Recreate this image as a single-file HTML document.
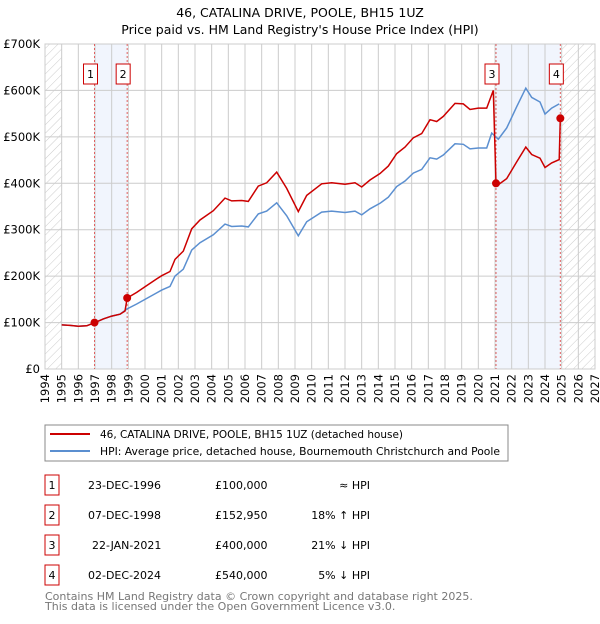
<!DOCTYPE html>
<html><head><meta charset="utf-8"><style>
body{margin:0;background:#fff;font-family:"DejaVu Sans","Liberation Sans",sans-serif;}
svg text{font-family:"DejaVu Sans","Liberation Sans",sans-serif;}
</style></head><body>
<svg id="chart" width="600" height="620" xmlns="http://www.w3.org/2000/svg">
<defs>
<pattern id="hatch" width="6" height="6" patternUnits="userSpaceOnUse" patternTransform="rotate(45)">
<line x1="0" y1="0" x2="0" y2="6" stroke="#ccc" stroke-width="1"/></pattern>
</defs>
<text x="300" y="17" text-anchor="middle" font-size="12.5">46, CATALINA DRIVE, POOLE, BH15 1UZ</text>
<text x="300" y="34" text-anchor="middle" font-size="12.5">Price paid vs. HM Land Registry's House Price Index (HPI)</text>
<g id="plot"></g>
<g>
<rect x="45" y="425" width="463" height="36" fill="#fff" stroke="#888"/>
<line x1="50" y1="434" x2="90" y2="434" stroke="#cc0000" stroke-width="2"/>
<text x="100" y="438" font-size="11" textLength="303" lengthAdjust="spacingAndGlyphs">46, CATALINA DRIVE, POOLE, BH15 1UZ (detached house)</text>
<line x1="50" y1="451" x2="90" y2="451" stroke="#5b8fd0" stroke-width="2"/>
<text x="100" y="455" font-size="11" textLength="400" lengthAdjust="spacingAndGlyphs">HPI: Average price, detached house, Bournemouth Christchurch and Poole</text>
</g>
<g id="table" font-size="11"></g>
<text x="45" y="600" font-size="11" fill="#777">Contains HM Land Registry data © Crown copyright and database right 2025.</text>
<text x="45" y="610" font-size="11" fill="#777">This data is licensed under the Open Government Licence v3.0.</text>
</svg>
<script>
const hpiYears=[1995,1995.5,1996,1996.5,1997,1997.5,1998,1998.5,1998.9,1999.5,2000,2000.7,2001,2001.5,2001.8,2002.3,2002.8,2003.3,2004.1,2004.8,2005.2,2005.8,2006.2,2006.8,2007.3,2007.9,2008.5,2009.2,2009.7,2010.6,2011.2,2012,2012.6,2013,2013.5,2014.1,2014.6,2015.1,2015.6,2016.1,2016.6,2017.1,2017.5,2017.9,2018.6,2019.1,2019.5,2020,2020.5,2020.8,2021.2,2021.7,2022.3,2022.85,2023.2,2023.7,2024.0,2024.4,2024.85];
const hpiValues=[95,94,92,93,100,108,114,118,129,140,150,164,170,178,200,215,256,272,289,312,307,308,306,334,340,358,330,287,317,338,340,337,340,332,345,357,370,393,405,422,430,455,452,461,485,484,474,476,476,508,495,519,565,605,585,575,549,562,571];
const redYears=[1995,1995.5,1996,1996.5,1997,1997.5,1998,1998.5,1998.8,1998.93,1999.5,2000,2000.7,2001,2001.5,2001.8,2002.3,2002.8,2003.3,2004.1,2004.8,2005.2,2005.8,2006.2,2006.8,2007.3,2007.9,2008.5,2009.2,2009.7,2010.6,2011.2,2012,2012.6,2013,2013.5,2014.1,2014.6,2015.1,2015.6,2016.1,2016.6,2017.1,2017.5,2017.9,2018.6,2019.1,2019.5,2020,2020.5,2020.9,2021.06,2021.2,2021.7,2022.3,2022.85,2023.2,2023.7,2024.0,2024.4,2024.85,2024.92];
const redValues=[95,94,92,93,100,108,114,118,125,153,165,177,194,201,210,236,254,302,321,341,368,362,363,361,394,401,424,389,339,374,399,401,398,401,392,407,421,437,464,478,498,507,537,533,544,572,571,559,562,562,600,400,397,410,446,478,462,454,434,444,451,540];
const saleYears=[1996.97,1998.93,2021.06,2024.92];
const saleValues=[100,152.95,400,540];
const saleLabels=["1","2","3","4"];
const saleDates=["23-DEC-1996","07-DEC-1998","22-JAN-2021","02-DEC-2024"];
const salePrices=["£100,000","£152,950","£400,000","£540,000"];
const saleHpi=["≈ HPI","18% ↑ HPI","21% ↓ HPI","5% ↓ HPI"];
const yTicks=[0,100,200,300,400,500,600,700];
const yTickLabels=["£0","£100K","£200K","£300K","£400K","£500K","£600K","£700K"];
const xTicks=[1994,1995,1996,1997,1998,1999,2000,2001,2002,2003,2004,2005,2006,2007,2008,2009,2010,2011,2012,2013,2014,2015,2016,2017,2018,2019,2020,2021,2022,2023,2024,2025,2026,2027];

const NS="http://www.w3.org/2000/svg";
const L=45,R=595,T=44,B=369;
const xs=y=>L+(y-1994)/(2027-1994)*(R-L);
const ys=v=>B-v/700*(B-T);
const plot=document.getElementById('plot');
function mk(tag,attrs,parent){const e=document.createElementNS(NS,tag);for(const k in attrs)e.setAttribute(k,attrs[k]);(parent||plot).appendChild(e);return e;}

let h1=mk('rect',{x:xs(1994),y:T,width:xs(1995)-xs(1994),height:B-T,fill:'url(#hatch)'});


let h2=mk('rect',{x:xs(2025),y:T,width:xs(2027)-xs(2025),height:B-T,fill:'url(#hatch)'});


[[0,1],[2,3]].forEach(([a,b])=>{
 let s=mk('rect',{x:xs(saleYears[a]),y:T,width:xs(saleYears[b])-xs(saleYears[a]),height:B-T,fill:'#eef3fc',opacity:0.8});
 
 
});
xTicks.forEach(t=>{let g=mk('line',{x1:xs(t),x2:xs(t),y1:T,y2:B,stroke:'#ccc','stroke-width':1});
 
 
 let tx=mk('text',{x:0,y:0,'font-size':11.5,'text-anchor':'end',transform:`translate(${xs(t)+4},${B+5}) rotate(-90)`});
 tx.textContent=t;
 
 
});
yTicks.forEach((t,i)=>{let g=mk('line',{x1:L,x2:R,y1:ys(t),y2:ys(t),stroke:'#ccc','stroke-width':1});
 
 
 let tx=mk('text',{x:L-5,y:ys(t)+4,'font-size':11.5,'text-anchor':'end'});
 tx.textContent=yTickLabels[i];
 
 
});
let fr=mk('rect',{x:L,y:T,width:R-L,height:B-T,fill:'none',stroke:'#ccc'});


saleYears.forEach(y=>{let l=mk('line',{x1:xs(y),x2:xs(y),y1:T,y2:B,stroke:'#e06060','stroke-width':1,'stroke-dasharray':'2,2'});
 
 
});
const path=(xa,va)=>xa.map((x,i)=>(i?'L':'M')+xs(x).toFixed(1)+','+ys(va[i]).toFixed(1)).join('');
let hp=mk('path',{d:path(hpiYears,hpiValues),fill:'none',stroke:'#5b8fd0','stroke-width':1.5});


let rp=mk('path',{d:path(redYears,redValues),fill:'none',stroke:'#cc0000','stroke-width':1.5});


saleYears.forEach((y,i)=>{
 let c=mk('circle',{cx:xs(y),cy:ys(saleValues[i]),r:4,fill:'#cc0000'});
 
 
 let bx=mk('rect',{x:xs(y)-11,y:64,width:14,height:20,fill:'#fff',stroke:'#cc0000'});
 
 
 let t=mk('text',{x:xs(y)-4,y:78,'font-size':11,'text-anchor':'middle'});
 t.textContent=saleLabels[i];
 
 
});
const tb=document.getElementById('table');
saleYears.forEach((y,i)=>{
 const ry=475+i*30;
 let b=mk('rect',{x:45,y:ry,width:14,height:20,fill:'#fff',stroke:'#cc0000'},tb);
 
 
 const cells=[[52,saleLabels[i],'middle'],[88+(i==2?4:0),saleDates[i],'start'],[215,salePrices[i],'start'],[370,saleHpi[i],'end']];
 cells.forEach(c=>{let t=mk('text',{x:c[0],y:ry+14,'text-anchor':c[2]},tb);t.textContent=c[1];
  
  });
});
</script>
</body></html>
